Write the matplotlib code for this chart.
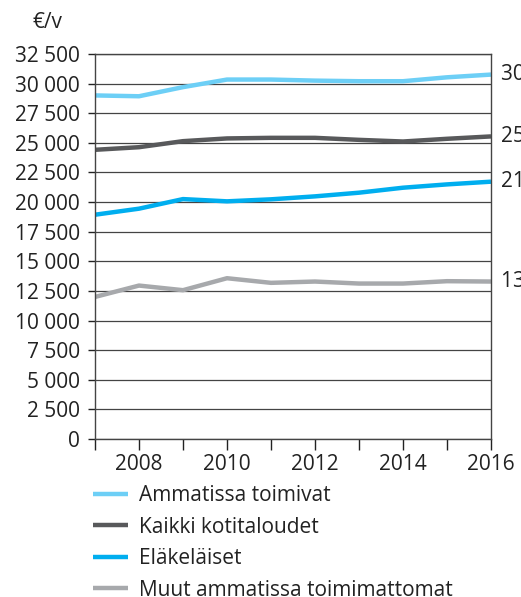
import matplotlib
matplotlib.use("Agg")
import matplotlib.pyplot as plt

plt.rcParams["font.family"] = ["Open Sans", "DejaVu Sans"]

years = [2007, 2008, 2009, 2010, 2011, 2012, 2013, 2014, 2015, 2016]
ammatissa = [29000, 28930, 29700, 30340, 30340, 30250, 30200, 30200, 30530, 30760]
kaikki = [24410, 24630, 25140, 25370, 25420, 25420, 25250, 25110, 25340, 25540]
elakelaiset = [18930, 19440, 20250, 20060, 20230, 20480, 20790, 21210, 21490, 21720]
muut = [11990, 12950, 12560, 13570, 13180, 13290, 13120, 13120, 13320, 13290]

series = [
    ("Ammatissa toimivat", ammatissa, "#6dcff6"),
    ("Kaikki kotitaloudet", kaikki, "#58595b"),
    ("Eläkeläiset", elakelaiset, "#00aeef"),
    ("Muut ammatissa toimimattomat", muut, "#a7a9ac"),
]

fs = 15

fig = plt.figure(figsize=(5.21, 5.97), dpi=100)
ax = fig.add_axes([0.1823, 0.2647, 0.7601, 0.6449])

for name, vals, col in series:
    ax.plot(years, vals, color=col, lw=3.2, label=name, solid_capstyle="butt")
    # end labels run off the right edge, as in the original
    ax.text(years[-1] + 0.22, vals[-1], f"{vals[-1]:,}".replace(",", " "),
            va="center", ha="left", fontsize=fs, color="#222222", clip_on=False)

ax.set_xlim(2007, 2016)
ax.set_ylim(0, 32500)
yt = list(range(0, 32501, 2500))
ax.set_yticks(yt)
ax.set_yticklabels([f"{v:,}".replace(",", " ") for v in yt])
ax.set_xticks(years)
ax.set_xticklabels([str(y) if y % 2 == 0 else "" for y in years])
ax.tick_params(axis="both", labelsize=fs, colors="#222222", direction="out")
ax.tick_params(axis="y", length=5, width=1, pad=6)
ax.tick_params(axis="x", length=8, width=1, pad=3)
ax.yaxis.grid(True, color="#444444", lw=0.9)
ax.set_axisbelow(True)
for s in ax.spines.values():
    s.set_color("#444444")
    s.set_linewidth(1)

fig.text(0.063, 0.963, "€/v", fontsize=fs, color="#222222", va="center")

ax.legend(loc="upper left", bbox_to_anchor=(0.178, 0.187), bbox_transform=fig.transFigure,
          frameon=False, fontsize=fs, handlelength=1.7, handletextpad=0.5,
          labelspacing=0.5, borderaxespad=0, borderpad=0, labelcolor="#222222")

fig.savefig("out.png", dpi=100)
